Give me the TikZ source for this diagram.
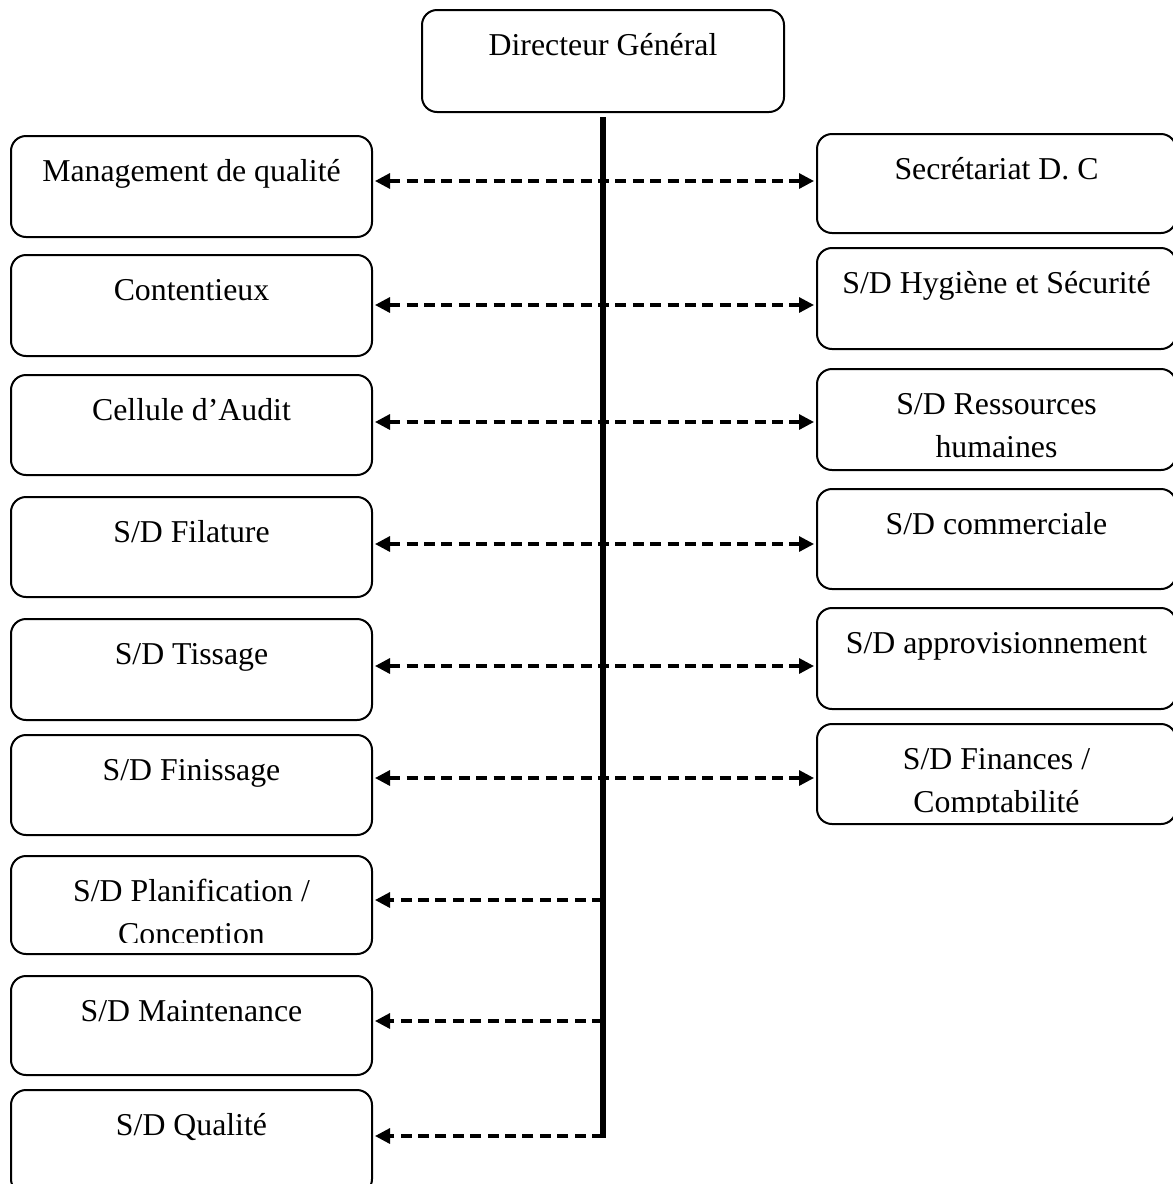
\documentclass[tikz,border=0pt]{standalone}
\usepackage{fontspec}
\setmainfont{Liberation Serif}
\usetikzlibrary{arrows.meta,fit}
\tikzset{
  orgbox/.style={draw, line width=1pt, rounded corners=7.5pt, inner sep=0pt},
  lbl/.style={anchor=base, inner sep=0pt, font=\fontsize{15.9pt}{21.5pt}\selectfont},
  spine/.style={line width=3.2pt},
  tip/.tip={Triangle[length=7.5pt,width=7.5pt]},
  link/.style={line width=1.6pt, dash pattern=on 5.5pt off 3.2pt, {tip}-{tip}},
  linkl/.style={line width=1.6pt, dash pattern=on 5.5pt off 3.2pt, -{tip}},
}
\newcommand\orgunit[6]{%
  \node[orgbox, fit={(#2,#3) (#4,#5)}] (#1) {};
  \begin{scope}
    \clip (#1.north west) rectangle ([yshift=6.5pt]#1.south east);
    \node[lbl] (#1t) at ([yshift=-23pt]#1.north) {\begin{tabular}[t]{@{}c@{}}#6\end{tabular}};
  \end{scope}}
\begin{document}
\begin{tikzpicture}[x={(0.5pt,0)}, y={(0,-0.5pt)}]
\useasboundingbox (0,0) rectangle (1173,1184);

\orgunit{DG}{422}{10}{784}{112}{Directeur Général}

\orgunit{L1}{11}{136}{372}{237}{Management de qualité}
\orgunit{L2}{11}{255}{372}{356}{Contentieux}
\orgunit{L3}{11}{375}{372}{475}{Cellule d’Audit}
\orgunit{L4}{11}{497}{372}{597}{S/D Filature}
\orgunit{L5}{11}{619}{372}{720}{S/D Tissage}
\orgunit{L6}{11}{735}{372}{835}{S/D Finissage}
\orgunit{L7}{11}{856}{372}{954}{S/D Planification /\\Conception}
\orgunit{L8}{11}{976}{372}{1075}{S/D Maintenance}
\orgunit{L9}{11}{1090}{372}{1194}{S/D Qualité}

\orgunit{R1}{817}{134}{1176}{233}{Secrétariat D. C}
\orgunit{R2}{817}{248}{1176}{349}{S/D Hygiène et Sécurité}
\orgunit{R3}{817}{369}{1176}{470}{S/D Ressources\\humaines}
\orgunit{R4}{817}{489}{1176}{589}{S/D commerciale}
\orgunit{R5}{817}{608}{1176}{709}{S/D approvisionnement}
\orgunit{R6}{817}{724}{1176}{824}{S/D Finances /\\Comptabilité}

\coordinate (s1) at (603,181);
\coordinate (s2) at (603,305);
\coordinate (s3) at (603,422);
\coordinate (s4) at (603,544);
\coordinate (s5) at (603,666);
\coordinate (s6) at (603,778);
\coordinate (s7) at (603,900);
\coordinate (s8) at (603,1021);
\coordinate (s9) at (603,1136);
\coordinate (sTop) at (603,117);
\coordinate (sBot) at (603,1138);

\draw[spine] (sTop) -- (sBot);

\draw[link] ([xshift=1pt]L1.east |- s1) -- ([xshift=-1pt]R1.west |- s1);
\draw[link] ([xshift=1pt]L2.east |- s2) -- ([xshift=-1pt]R2.west |- s2);
\draw[link] ([xshift=1pt]L3.east |- s3) -- ([xshift=-1pt]R3.west |- s3);
\draw[link] ([xshift=1pt]L4.east |- s4) -- ([xshift=-1pt]R4.west |- s4);
\draw[link] ([xshift=1pt]L5.east |- s5) -- ([xshift=-1pt]R5.west |- s5);
\draw[link] ([xshift=1pt]L6.east |- s6) -- ([xshift=-1pt]R6.west |- s6);
\draw[linkl] (s7) -- ([xshift=1pt]L7.east |- s7);
\draw[linkl] (s8) -- ([xshift=1pt]L8.east |- s8);
\draw[linkl] (s9) -- ([xshift=1pt]L9.east |- s9);
\end{tikzpicture}
\end{document}
